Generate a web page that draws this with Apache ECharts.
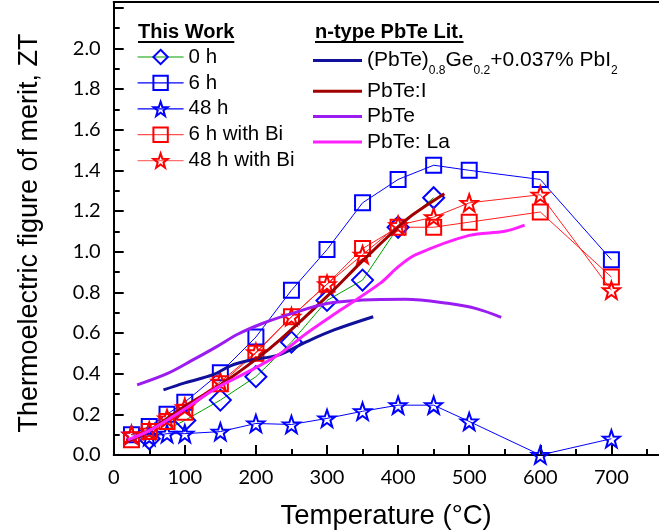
<!DOCTYPE html>
<html>
<head>
<meta charset="utf-8">
<script src="https://cdn.jsdelivr.net/npm/echarts@6/dist/echarts.min.js"></script>
<style>
  html, body { margin: 0; padding: 0; background: #ffffff; }
  #chart { width: 659px; height: 531px; }
</style>
</head>
<body>
<div id="chart"></div>
<script>
// ---- This work: ZT vs temperature (°C) ----
const temp0h = [50, 100, 150, 200, 250, 300, 350, 400, 450];
const zt0h = [0.08, 0.17, 0.27, 0.385, 0.555, 0.76, 0.86, 1.12, 1.265];

const tempSamples = [25, 50, 75, 100, 150, 200, 250, 300, 350, 400, 450, 500, 600, 700];
const zt6h = [0.10, 0.14, 0.20, 0.26, 0.405, 0.58, 0.81, 1.01, 1.24, 1.355, 1.425, 1.40, 1.355, 0.96];
const zt48h = [0.10, 0.09, 0.105, 0.105, 0.115, 0.155, 0.15, 0.18, 0.215, 0.245, 0.245, 0.165, 0.0, 0.08];
const zt6hBi = [0.075, 0.115, 0.165, 0.21, 0.35, 0.50, 0.68, 0.84, 1.015, 1.12, 1.12, 1.145, 1.195, 0.875];
const zt48hBi = [0.10, 0.12, 0.18, 0.235, 0.36, 0.505, 0.68, 0.84, 0.985, 1.13, 1.17, 1.24, 1.28, 0.81];

// ---- n-type PbTe literature curves ----
const tempGe = [70, 100, 140, 165, 190, 230, 250, 270, 310, 365];
const ztGe = [0.32, 0.355, 0.395, 0.44, 0.465, 0.49, 0.52, 0.555, 0.615, 0.68];

const tempI = [20, 50, 100, 150, 200, 235, 300, 350, 400, 420, 465];
const ztI = [0.07, 0.12, 0.24, 0.345, 0.47, 0.57, 0.78, 0.955, 1.12, 1.18, 1.285];

const tempPbTe = [33, 75, 110, 145, 175, 210, 250, 300, 350, 410, 470, 510, 545];
const ztPbTe = [0.345, 0.40, 0.465, 0.533, 0.595, 0.648, 0.695, 0.745, 0.762, 0.766, 0.746, 0.72, 0.677];

const tempLa = [20, 50, 95, 145, 195, 235, 270, 320, 375, 400, 425, 500, 550, 578];
const ztLa = [0.075, 0.12, 0.215, 0.33, 0.42, 0.5, 0.595, 0.715, 0.845, 0.925, 0.985, 1.08, 1.1, 1.13];

// ---- axis ranges and tick steps ----
const xTicks = { min: 0, max: 800, step: 100 };
const yTicks = { min: 0, max: 2.228, step: 0.2, lastLabel: 2.0 };

const legendWork = ['0 h', '6 h', '48 h', '6 h with Bi', '48 h with Bi'];
const legendLit = ['(PbTe)0.8Ge0.2+0.037% PbI2', 'PbTe:I', 'PbTe', 'PbTe: La'];

const pairs = (xs, ys) => xs.map((x, i) => [x, ys[i]]);

const STAR = 'path://M0,-10L2.35,-3.24L9.51,-3.09L3.8,1.24L5.88,8.09L0,4L-5.88,8.09L-3.8,1.24L-9.51,-3.09L-2.35,-3.24Z';
const HOLLOW = 'rgba(255,255,255,0)';
// legend swatch: a 3px bar inside a 49x23 box, placed level with the
// main text line of the subscripted label
const LIT_SWATCH = 'path://M0,0L0.01,0M0,10.5L49,10.5L49,13.5L0,13.5ZM0,23L0.01,23';

const AXIS_FONT = 'Lato';
const TEXT_FONT = 'Liberation Sans';

const chart = echarts.init(document.getElementById('chart'), null, { renderer: 'canvas' });

// plot frame: y axis at x=113.7, x axis at y=455; the frame runs past the right edge
const gridLeft = 113.7;
const xAxisY = 455;
const pxPerZT = 203.35;
const pxPerDeg = 0.711;
const gridHeight = yTicks.max * pxPerZT;
const gridTop = xAxisY - gridHeight;
const gridWidth = xTicks.max * pxPerDeg;

function markerSeries(name, xs, ys, symbol, size, markColor, lineColor) {
  return {
    name, type: 'line', data: pairs(xs, ys),
    symbol, symbolSize: size, z: 2,
    lineStyle: { color: lineColor, width: 1 },
    itemStyle: { color: HOLLOW, borderColor: markColor, borderWidth: 2 },
    emphasis: { disabled: true }
  };
}

function litSeries(name, xs, ys, color) {
  return {
    name, type: 'line', data: pairs(xs, ys),
    symbol: 'none', smooth: 0.35, z: 3,
    lineStyle: { color, width: 3 },
    itemStyle: { color },
    emphasis: { disabled: true }
  };
}

const workItem = (name, markColor, lineColor) => ({
  name,
  itemStyle: { color: HOLLOW, borderColor: markColor, borderWidth: 2 },
  lineStyle: { color: lineColor, width: 1.2 }
});
const litItem = (name, color, icon) => ({ name, icon: icon || 'rect', itemStyle: { color, borderWidth: 0 } });

// measure heading text so the underline spans it exactly
const ctx = document.createElement('canvas').getContext('2d');
function textWidth(str, font) { ctx.font = font; return ctx.measureText(str).width; }
const headFont = 'bold 20px "Liberation Sans"';
const head1 = 'This Work', head2 = 'n-type PbTe Lit.';
const head1X = 138, head2X = 315, headTop = 22, lineY = 42;

const option = {
  animation: false,
  backgroundColor: '#ffffff',
  grid: {
    left: gridLeft, top: gridTop, width: gridWidth, height: gridHeight,
    containLabel: false, outerBoundsMode: 'none'
  },
  xAxis: [{
    type: 'value', min: xTicks.min, max: xTicks.max, interval: xTicks.step,
    name: 'Temperature (°C)', nameLocation: 'middle', nameGap: 47,
    nameTextStyle: { fontFamily: TEXT_FONT, fontSize: 27.5, color: '#000', padding: [0, 24, 0, 0] },
    axisLine: { onZero: false, lineStyle: { color: '#000', width: 2 } },
    axisTick: { inside: true, length: 10, lineStyle: { color: '#000', width: 2 } },
    minorTick: { show: true, splitNumber: 2, length: 6, lineStyle: { color: '#000', width: 2 } },
    splitLine: { show: false },
    axisLabel: { fontFamily: AXIS_FONT, fontSize: 20, color: '#000', margin: 13 }
  }, {
    type: 'value', position: 'top', min: xTicks.min, max: xTicks.max, interval: xTicks.step,
    axisLine: { onZero: false, lineStyle: { color: '#000', width: 2 } },
    axisTick: { show: false }, axisLabel: { show: false }, splitLine: { show: false }
  }],
  yAxis: {
    type: 'value', min: yTicks.min, max: yTicks.max, interval: yTicks.step,
    name: 'Thermoelectric figure of merit, ZT', nameLocation: 'middle', nameGap: 71,
    nameTextStyle: { fontFamily: TEXT_FONT, fontSize: 27, color: '#000', padding: [0, 9, 0, 0] },
    axisLine: { onZero: false, lineStyle: { color: '#000', width: 2 } },
    axisTick: { inside: true, length: 10, lineStyle: { color: '#000', width: 2 } },
    minorTick: { show: true, splitNumber: 2, length: 6, lineStyle: { color: '#000', width: 2 } },
    splitLine: { show: false },
    axisLabel: {
      fontFamily: AXIS_FONT, fontSize: 20, color: '#000', margin: 13,
      formatter: v => (v > yTicks.lastLabel + 0.05 ? '' : v.toFixed(1))
    }
  },
  legend: [{
    orient: 'vertical', left: 137, top: 46.5, padding: 0,
    itemWidth: 46, itemHeight: 18, itemGap: 4.9, selectedMode: false,
    textStyle: { fontFamily: TEXT_FONT, fontSize: 20.5, color: '#000' },
    data: [
      workItem(legendWork[0], '#0000ff', '#00a000'),
      workItem(legendWork[1], '#0000ff', '#0000ff'),
      workItem(legendWork[2], '#0000ff', '#0000ff'),
      workItem(legendWork[3], '#ff0000', '#ff5050'),
      workItem(legendWork[4], '#ff0000', '#ff7070')
    ]
  }, {
    orient: 'vertical', left: 313, top: 48.4, padding: 0,
    itemWidth: 49, itemHeight: 23, itemGap: 6, selectedMode: false,
    formatter: () => '{m|(PbTe)}{s|0.8}{m|Ge}{s|0.2}{m|+0.037% PbI}{s|2}',
    textStyle: {
      fontFamily: TEXT_FONT, fontSize: 21, color: '#000',
      rich: {
        m: { fontFamily: TEXT_FONT, fontSize: 21, color: '#000', lineHeight: 40 },
        s: { fontFamily: TEXT_FONT, fontSize: 12, color: '#000', padding: [22, 0, 0, 0] }
      }
    },
    data: [litItem(legendLit[0], '#10109a', LIT_SWATCH)]
  }, {
    orient: 'vertical', left: 313, top: 80.8, padding: 0,
    itemWidth: 49, itemHeight: 3, itemGap: 4.3, selectedMode: false,
    textStyle: { fontFamily: TEXT_FONT, fontSize: 21, color: '#000' },
    data: [
      litItem(legendLit[1], '#a00000'),
      litItem(legendLit[2], '#9b1cf0'),
      litItem(legendLit[3], '#ff20ff')
    ]
  }],
  graphic: [
    { type: 'text', left: head1X, top: headTop, style: { text: head1, font: headFont, fill: '#000' } },
    { type: 'text', left: head2X, top: headTop, style: { text: head2, font: headFont, fill: '#000' } },
    { type: 'line', shape: { x1: head1X, y1: lineY, x2: head1X + textWidth(head1, headFont), y2: lineY },
      style: { stroke: '#000', lineWidth: 2 } },
    { type: 'line', shape: { x1: head2X, y1: lineY, x2: head2X + textWidth(head2, headFont), y2: lineY },
      style: { stroke: '#000', lineWidth: 2 } }
  ],
  series: [
    markerSeries(legendWork[0], temp0h, zt0h, 'diamond', 21, '#0000ff', '#00a000'),
    markerSeries(legendWork[1], tempSamples, zt6h, 'rect', 15, '#0000ff', '#0000ff'),
    markerSeries(legendWork[2], tempSamples, zt48h, STAR, 17, '#0000ff', '#0000ff'),
    markerSeries(legendWork[3], tempSamples, zt6hBi, 'rect', 15, '#ff0000', '#ff2020'),
    markerSeries(legendWork[4], tempSamples, zt48hBi, STAR, 17, '#ff0000', '#ff2020'),
    litSeries(legendLit[0], tempGe, ztGe, '#10109a'),
    litSeries(legendLit[1], tempI, ztI, '#a00000'),
    litSeries(legendLit[2], tempPbTe, ztPbTe, '#9b1cf0'),
    litSeries(legendLit[3], tempLa, ztLa, '#ff20ff')
  ]
};

chart.setOption(option);
</script>
</body>
</html>
